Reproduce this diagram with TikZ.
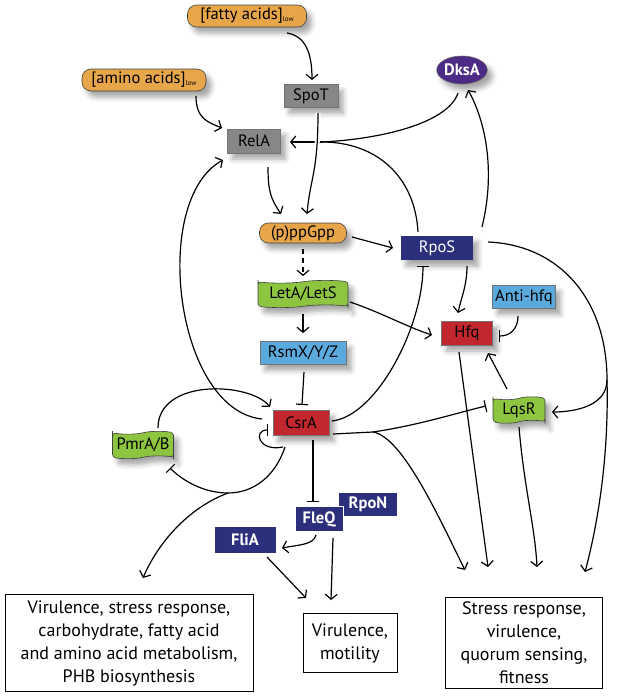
\documentclass[tikz,border=0pt]{standalone}
\usepackage{fontspec}
\setmainfont{PT Sans}
\usetikzlibrary{arrows.meta,calc,shapes.geometric,shapes.symbols,shadows.blur}
\definecolor{orangec}{HTML}{E8A64A}
\definecolor{grayc}{HTML}{878787}
\definecolor{navyc}{HTML}{2C2F7C}
\definecolor{purplec}{HTML}{4B2B86}
\definecolor{greenc}{HTML}{8DC541}
\definecolor{bluec}{HTML}{5AAADD}
\definecolor{redc}{HTML}{C1272D}
\newcommand{\nfont}{\fontsize{16.5}{19}\selectfont}
\newcommand{\lowsub}{{\fontsize{7}{8}\selectfont\raisebox{-1.5pt}{low}}}
\tikzset{
  shad/.style={blur shadow={shadow xshift=5pt,shadow yshift=-6pt,shadow blur radius=5pt,shadow opacity=35}},
  base/.style={inner sep=1pt,font=\nfont,line width=0.6pt},
  orangebox/.style={base,shad,fill=orangec,draw=black!75,rounded corners=9pt},
  graybox/.style={base,shad,fill=grayc,draw=black!55},
  navybox/.style={base,fill=navyc,text=white},
  redbox/.style={base,shad,fill=redc,draw=black!55},
  bluebox/.style={base,shad,fill=bluec,draw=black!55},
  greenbox/.style={base,shad,fill=greenc,draw=black!75,tape,tape bend height=2.5pt,rounded corners=3pt},
  outbox/.style={draw=black,line width=1pt,align=center,font=\fontsize{18}{23}\selectfont,inner sep=2pt},
  arr/.style={line width=1.2pt,-{Straight Barb[length=5pt,width=12pt,line width=1.2pt]}},
  inh/.style={line width=1.2pt,-{Bar[width=12pt,line width=1.2pt]}},
}
\begin{document}
\begin{tikzpicture}[x=1pt,y=-1pt]
\useasboundingbox (0,0) rectangle (618,697);
% nodes
\node[orangebox,minimum width=119pt,minimum height=22pt] (fatty) at (247,16) {[fatty acids]\lowsub};
\node[orangebox,minimum width=124pt,minimum height=22pt] (amino) at (144,80) {[amino acids]\lowsub};
\node[graybox,minimum width=54pt,minimum height=23pt] (SpoT) at (311,96) {SpoT};
\node[graybox,minimum width=53pt,minimum height=24pt] (RelA) at (254,141) {RelA};
\node[ellipse,shad,fill=purplec,draw=black!60,line width=0.6pt,text=white,font=\nfont\bfseries,minimum width=50pt,minimum height=28pt,inner sep=0pt] (DksA) at (462,70) {DksA};
\node[orangebox,minimum width=87pt,minimum height=20pt] (ppGpp) at (303,233) {(p)ppGpp};
\node[navybox,shad,minimum width=72pt,minimum height=24pt] (RpoS) at (437,248) {RpoS};
\node[greenbox,minimum width=90pt,minimum height=27pt] (LetA) at (303,294) {LetA/LetS};
\node[bluebox,minimum width=86pt,minimum height=23pt] (Rsm) at (303,353) {RsmX/Y/Z};
\node[redbox,minimum width=56pt,minimum height=25pt] (CsrA) at (301,423) {CsrA};
\node[redbox,minimum width=51pt,minimum height=24pt] (Hfq) at (467,333) {Hfq};
\node[bluebox,minimum width=63pt,minimum height=23pt] (Antihfq) at (524,297) {Anti-hfq};
\node[greenbox,minimum width=52pt,minimum height=26pt] (LqsR) at (519,410) {LqsR};
\node[greenbox,minimum width=61pt,minimum height=27pt] (PmrA) at (143,445) {PmrA/B};
\node[navybox,font=\nfont\bfseries,minimum width=58pt,minimum height=23pt] (RpoN) at (368,504) {RpoN};
\node[navybox,draw=white,line width=1pt,font=\nfont\bfseries,minimum width=48pt,minimum height=25pt] (FleQ) at (319,519) {FleQ};
\node[navybox,font=\nfont\bfseries,minimum width=61pt,minimum height=26pt] (FliA) at (245,540) {FliA};
\node[outbox,minimum width=248pt,minimum height=97pt] (Box1) at (129,643) {Virulence, stress response,\\carbohydrate, fatty acid\\and amino acid metabolism,\\PHB biosynthesis};
\node[outbox,minimum width=94pt,minimum height=59pt] (Box2) at (350,643) {Virulence,\\motility};
\node[outbox,minimum width=157pt,minimum height=91pt] (Box3) at (524,643) {Stress response,\\virulence,\\quorum sensing,\\fitness};
% junction coordinates
\coordinate (J1) at ($(RelA)+(68,1)$);
\coordinate (J2) at ($(LqsR)+(88,-30)$);
\coordinate (J3) at ($(CsrA)+(72,9)$);
\coordinate (J4) at ($(CsrA)+(-73,70)$);
% connectors
\draw[arr] ($(fatty)+(40,17)$) .. controls +(18,3) and +(0,-28) .. ($(SpoT)+(1,-16)$);
\draw[arr] ($(amino)+(52,16)$) .. controls +(0,22) and +(-15,-6) .. ($(RelA)+(-32,-13)$);
\draw[line width=1.2pt] ($(DksA)+(-4,23)$) .. controls +(-10,30) and +(60,-3) .. (J1);
\draw[line width=1.2pt] ($(RpoS)+(-19,-16)$) .. controls +(-3,-55) and +(55,0) .. (J1);
\draw[arr] (J1) -- ($(RelA)+(36,1)$);
\draw[arr,preaction={draw=white,line width=5pt,-}] ($(SpoT)+(7,17)$) .. controls +(0,60) and +(3,-35) .. ($(ppGpp)+(4,-19)$);
\draw[arr] ($(RelA)+(14,26)$) .. controls +(0,25) and +(-10,-15) .. ($(ppGpp)+(-22,-19)$);
\draw[arr] ($(RpoS)+(45,-21)$) .. controls +(14,-57) and +(17,30) .. ($(DksA)+(6,20)$);
\draw[arr] ($(ppGpp)+(49,4)$) -- ($(RpoS)+(-44,0)$);
\draw[arr,dashed,dash pattern=on 5pt off 4pt] ($(ppGpp)+(0,16)$) -- ($(LetA)+(0,-18)$);
\draw[arr] ($(LetA)+(0,20)$) -- ($(Rsm)+(0,-20)$);
\draw[arr] ($(LetA)+(47,8)$) .. controls +(30,10) and +(-25,-8) .. ($(Hfq)+(-35,2)$);
\draw[inh] ($(Rsm)+(1,19)$) -- ($(CsrA)+(1,-18)$);
\draw[inh] ($(CsrA)+(31,-2)$) .. controls +(45,-5) and +(0,60) .. ($(RpoS)+(-14,18)$);
\draw[arr] ($(RpoS)+(30,18)$) .. controls +(0,20) and +(3,-15) .. ($(Hfq)+(-9,-20)$);
\draw[inh] ($(Antihfq)+(-6,19)$) .. controls +(0,12) and +(12,0) .. ($(Hfq)+(32,3)$);
\draw[arr] ($(LqsR)+(-12,-21)$) -- ($(Hfq)+(21,20)$);
\draw[line width=1.2pt] ($(RpoS)+(51,-6)$) .. controls +(72,3) and +(0,-80) .. (J2);
\draw[arr] (J2) .. controls +(0,25) and +(25,0) .. ($(LqsR)+(33,2)$);
\draw[arr] (J2) .. controls +(2,80) and +(12,-45) .. ($(Box3)+(61,-71)$);
\draw[line width=1.2pt] ($(CsrA)+(32,11)$) -- (J3);
\draw[inh] (J3) .. controls +(47,-7) and +(-26,6) .. ($(LqsR)+(-33,-4)$);
\draw[arr] (J3) .. controls +(30,5) and +(-25,-50) .. ($(Box3)+(-59,-73)$);
\draw[arr] ($(Hfq)+(-8,19)$) -- ($(Box3)+(-36,-76)$);
\draw[arr] ($(LqsR)+(0,17)$) .. controls +(5,60) and +(-2,-40) .. ($(Box3)+(13,-76)$);
\draw[inh] ($(CsrA)+(-18,24)$) .. controls +(-25,5) and +(-15,0) .. ($(CsrA)+(-33,7)$);
\draw[line width=1.2pt] ($(CsrA)+(-16,24)$) .. controls +(-10,30) and +(25,0) .. (J4);
\draw[inh] (J4) .. controls +(-25,0) and +(12,12) .. ($(PmrA)+(27,23)$);
\draw[arr] (J4) .. controls +(-40,15) and +(15,-35) .. ($(Box1)+(14,-65)$);
\draw[arr] ($(PmrA)+(15,-17)$) .. controls +(0,-50) and +(-20,-25) .. ($(CsrA)+(-31,-16)$);
\draw[arr] ($(CsrA)+(-39,-4)$) .. controls +(-87,-9) and +(-73,40) .. ($(RelA)+(-31,19)$);
\draw[inh] ($(CsrA)+(12,17)$) -- ($(FleQ)+(-6,-17)$);
\draw[arr] ($(FleQ)+(-3,16)$) .. controls +(-2,10) and +(15,-3) .. ($(FliA)+(37,8)$);
\draw[arr] ($(FliA)+(22,17)$) -- ($(Box2)+(-44,-45)$);
\draw[arr] ($(FleQ)+(14,19)$) -- ($(Box2)+(-19,-43)$);
\end{tikzpicture}
\end{document}
